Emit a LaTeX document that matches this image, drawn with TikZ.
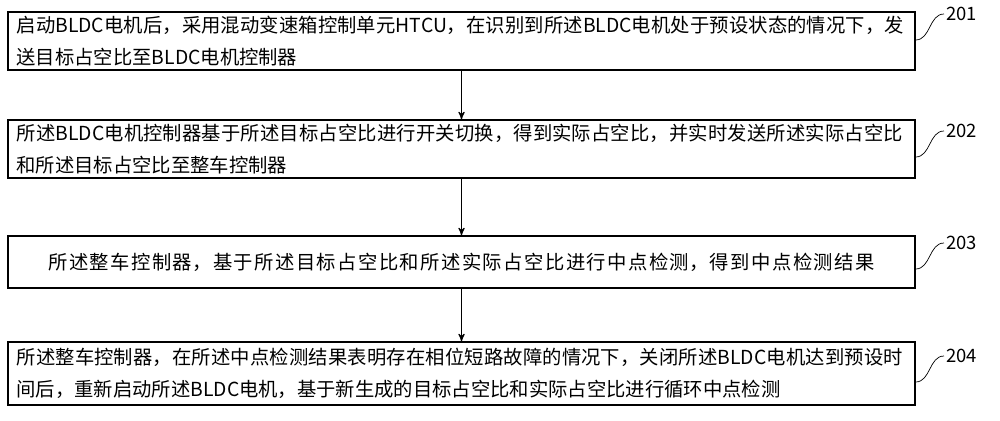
\documentclass[tikz,border=0pt]{standalone}
\usepackage{fontspec}
\setmainfont{Noto Sans CJK SC}
\XeTeXlinebreaklocale "zh"
\XeTeXlinebreakskip=0pt plus 1pt
\usetikzlibrary{arrows,positioning}
\begin{document}
\begin{tikzpicture}[->,>=stealth',semithick,x=0.02cm,y=-0.02cm]
  \tikzstyle{stepbox}=[draw,thick,rectangle,minimum width=18.14cm,text width=17.8cm,
                       align=left,inner sep=0pt,font=\fontsize{11}{18}\selectfont]
  \tikzstyle{tag}=[-,thin]
  \useasboundingbox (0,0) rectangle (1000,420);

  \node[stepbox,minimum height=1.16cm] (S1) at (461.5,41)
    {启动BLDC电机后，采用混动变速箱控制单元HTCU，在识别到所述BLDC电机处于预设状态的情况下，发送目标占空比至BLDC电机控制器};
  \node[stepbox,minimum height=1.16cm] (S2) at (461.5,149)
    {所述BLDC电机控制器基于所述目标占空比进行开关切换，得到实际占空比，并实时发送所述实际占空比和所述目标占空比至整车控制器};
  \node[stepbox,minimum height=1.04cm,align=center] (S3) at (461.5,262)
    {所述整车控制器，基于所述目标占空比和所述实际占空比进行中点检测，得到中点检测结果};
  \node[stepbox,minimum height=1.26cm] (S4) at (461.5,373.5)
    {所述整车控制器，在所述中点检测结果表明存在相位短路故障的情况下，关闭所述BLDC电机达到预设时间后，重新启动所述BLDC电机，基于新生成的目标占空比和实际占空比进行循环中点检测};

  \draw (S1) -- (S2);
  \draw (S2) -- (S3);
  \draw (S3) -- (S4);

  \foreach \s/\n/\y in {S1/201/14, S2/202/131, S3/203/243, S4/204/356} {
    \coordinate (L\n) at (944,\y);
    \draw[tag] (S1.east |- 0,\y+26) to[out=0,in=180] (L\n);
    \node[anchor=west,inner sep=1pt,font=\fontsize{10.5}{11}\selectfont] at (L\n) {\n};
  }
\end{tikzpicture}
\end{document}
